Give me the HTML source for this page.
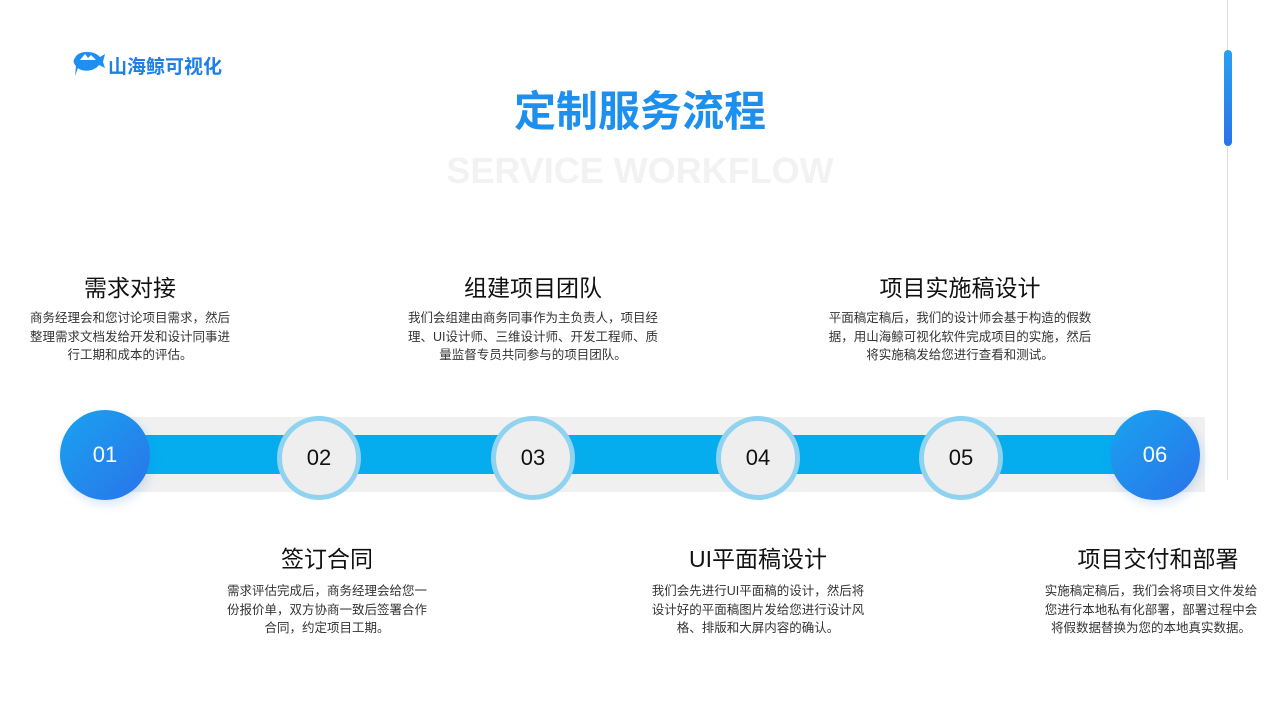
<!DOCTYPE html>
<html><head><meta charset="utf-8"><style>
body{margin:0;width:1280px;height:720px;background:#fff;position:relative;overflow:hidden;font-family:"Liberation Sans","Noto Sans CJK SC",sans-serif;}
.a{position:absolute}
.t{position:absolute;text-align:center;font-size:23px;color:#111;transform:translateX(-50%);white-space:nowrap}
.p{position:absolute;text-align:center;font-size:12.5px;line-height:18.5px;color:#333;transform:translateX(-50%);width:232px}
.c{position:absolute;border-radius:50%;display:flex;align-items:center;justify-content:center;font-size:22px;}
.w{width:74px;height:74px;background:#eee;border:5px solid #8fd3f0;color:#111;transform:translate(-50%,-50%)}
.b{width:90px;height:90px;background:linear-gradient(135deg,#19a3ef,#2a73ea);color:#fff;transform:translate(-50%,-50%);box-shadow:2px 4px 10px rgba(40,120,230,.2)}
</style></head><body>
<svg class="a" style="left:72px;top:48px" width="34" height="30" viewBox="0 0 34 30"><path d="M3 10 C6 2 22 2 28 9 L33 6 L31 14 L33 20 L27 17 C22 24 10 24 6 20 L3 28 L4 18 C1 15 1 12 3 10Z" fill="#1e8ff0"/><path d="M8 12 L13 6 L16 10 L19 7 L24 12Z" fill="#fff"/></svg>
<div class="a" style="left:108px;top:52px;font-size:19px;font-weight:bold;color:#1e7fe6">山海鲸可视化</div>
<div class="a" style="left:0;width:1280px;top:78px;text-align:center;font-size:42px;font-weight:bold;color:#1d8fee">定制服务流程</div>
<div class="a" style="left:0;width:1280px;top:150px;text-align:center;font-size:36px;font-weight:bold;color:#f2f2f2">SERVICE WORKFLOW</div>
<div class="a" style="left:1227px;top:0;width:1px;height:480px;background:#ddd"></div>
<div class="a" style="left:1224px;top:50px;width:8px;height:96px;border-radius:4px;background:linear-gradient(#2aa0f0,#2a73ea)"></div>

<div class="a" style="left:130px;top:417px;width:1075px;height:75px;background:#f0f0f0"></div>
<div class="a" style="left:130px;top:435px;width:1020px;height:39px;background:#05adef"></div>
<div class="c b" style="left:105px;top:455px">01</div>
<div class="c w" style="left:319px;top:458px">02</div>
<div class="c w" style="left:533px;top:458px">03</div>
<div class="c w" style="left:758px;top:458px">04</div>
<div class="c w" style="left:961px;top:458px">05</div>
<div class="c b" style="left:1155px;top:455px">06</div>

<div class="t" style="left:130px;top:269px">需求对接</div>
<div class="p" style="left:130px;top:309px;width:212px">商务经理会和您讨论项目需求，然后整理需求文档发给开发和设计同事进行工期和成本的评估。</div>
<div class="t" style="left:533px;top:269px">组建项目团队</div>
<div class="p" style="left:533px;top:309px;width:256px">我们会组建由商务同事作为主负责人，项目经理、UI设计师、三维设计师、开发工程师、质量监督专员共同参与的项目团队。</div>
<div class="t" style="left:960px;top:269px">项目实施稿设计</div>
<div class="p" style="left:960px;top:309px;width:270px">平面稿定稿后，我们的设计师会基于构造的假数据，用山海鲸可视化软件完成项目的实施，然后将实施稿发给您进行查看和测试。</div>

<div class="t" style="left:327px;top:540px">签订合同</div>
<div class="p" style="left:327px;top:582px;width:212px">需求评估完成后，商务经理会给您一份报价单，双方协商一致后签署合作合同，约定项目工期。</div>
<div class="t" style="left:758px;top:540px">UI平面稿设计</div>
<div class="p" style="left:758px;top:582px;width:218px">我们会先进行UI平面稿的设计，然后将设计好的平面稿图片发给您进行设计风格、排版和大屏内容的确认。</div>
<div class="t" style="left:1158px;top:540px">项目交付和部署</div>
<div class="p" style="left:1151px;top:582px;width:224px">实施稿定稿后，我们会将项目文件发给您进行本地私有化部署，部署过程中会将假数据替换为您的本地真实数据。</div>
</body></html>
